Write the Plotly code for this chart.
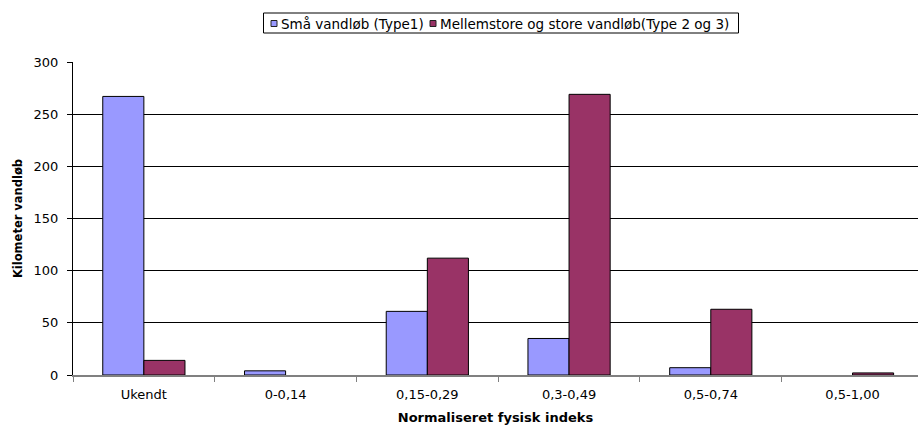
import plotly.graph_objects as go

categories = ["Ukendt", "0-0,14", "0,15-0,29", "0,3-0,49", "0,5-0,74", "0,5-1,00"]
small_streams = [267, 4, 61, 35, 7, 0]
large_streams = [14, 0, 112, 269, 63, 2]

series_names = ["Små vandløb (Type1)", "Mellemstore og store vandløb(Type 2 og 3)"]
series_colors = ["#9999FF", "#993366"]
y_ticks = [0, 50, 100, 150, 200, 250, 300]

FONT = "DejaVu Sans, Verdana, sans-serif"

W, H = 918, 425
M_L, M_R, M_T, M_B = 73, 0, 62, 50
plot_w = W - M_L - M_R
plot_h = H - M_T - M_B


def px_to_paper(x, y):
    """Convert page pixel coordinates to paper coordinates of the plot area."""
    return (x - M_L) / plot_w, (H - M_B - y) / plot_h


def nonzero(vals):
    # empty categories get no bar at all
    return [v if v else None for v in vals]


fig = go.Figure()
for name, vals, color in zip(series_names, [small_streams, large_streams], series_colors):
    fig.add_trace(go.Bar(
        x=categories, y=nonzero(vals), name=name,
        marker=dict(color=color, line=dict(color="#000000", width=1)),
        showlegend=False,
    ))

# Legend box drawn as a framed row of swatches and labels
shapes = []
annotations = []
bx0, by0 = px_to_paper(263.5, 33)
bx1, by1 = px_to_paper(738.5, 13)
shapes.append(dict(type="rect", xref="paper", yref="paper",
                   x0=bx0, y0=by0, x1=bx1, y1=by1,
                   line=dict(color="black", width=1), fillcolor="white", layer="above"))
legend_items = [(271, 279), (430, 438)]
for (sx, tx), name, color in zip(legend_items, series_names, series_colors):
    x0, y0 = px_to_paper(sx, 26.5)
    x1, y1 = px_to_paper(sx + 6, 20.5)
    shapes.append(dict(type="rect", xref="paper", yref="paper",
                       x0=x0, y0=y0, x1=x1, y1=y1,
                       line=dict(color="#222222", width=1), fillcolor=color, layer="above"))
    ax, ay = px_to_paper(tx, 23.5)
    annotations.append(dict(xref="paper", yref="paper", x=ax, y=ay,
                            xanchor="left", yanchor="middle", showarrow=False,
                            text=name, font=dict(family=FONT, size=13.5, color="black")))

fig.update_layout(
    width=W, height=H,
    margin=dict(l=M_L, r=M_R, t=M_T, b=M_B),
    paper_bgcolor="white", plot_bgcolor="white",
    barmode="group", bargap=0.42, bargroupgap=0,
    font=dict(family=FONT, size=13, color="black"),
    showlegend=False,
    shapes=shapes,
    annotations=annotations,
)

fig.update_xaxes(
    type="category",
    range=[-0.5, 5.462],
    tickson="boundaries",
    ticks="outside", ticklen=5, tickcolor="#808080", tickwidth=1,
    ticklabelstandoff=6,
    showline=True, linecolor="#808080", linewidth=2,
    showgrid=False,
    tickfont=dict(size=13),
    title=dict(text="<b>Normaliseret fysisk indeks</b>", font=dict(size=13), standoff=13),
)
fig.update_yaxes(
    range=[0, 300], tickvals=y_ticks,
    ticks="outside", ticklen=5, tickcolor="black",
    ticklabelstandoff=6,
    showline=True, linecolor="black", linewidth=1,
    showgrid=True, gridcolor="black", gridwidth=1,
    zeroline=False,
    tickfont=dict(size=13),
    title=dict(text="<b>Kilometer vandløb</b>", font=dict(size=11.5), standoff=8),
)

fig.write_html("out.html")
